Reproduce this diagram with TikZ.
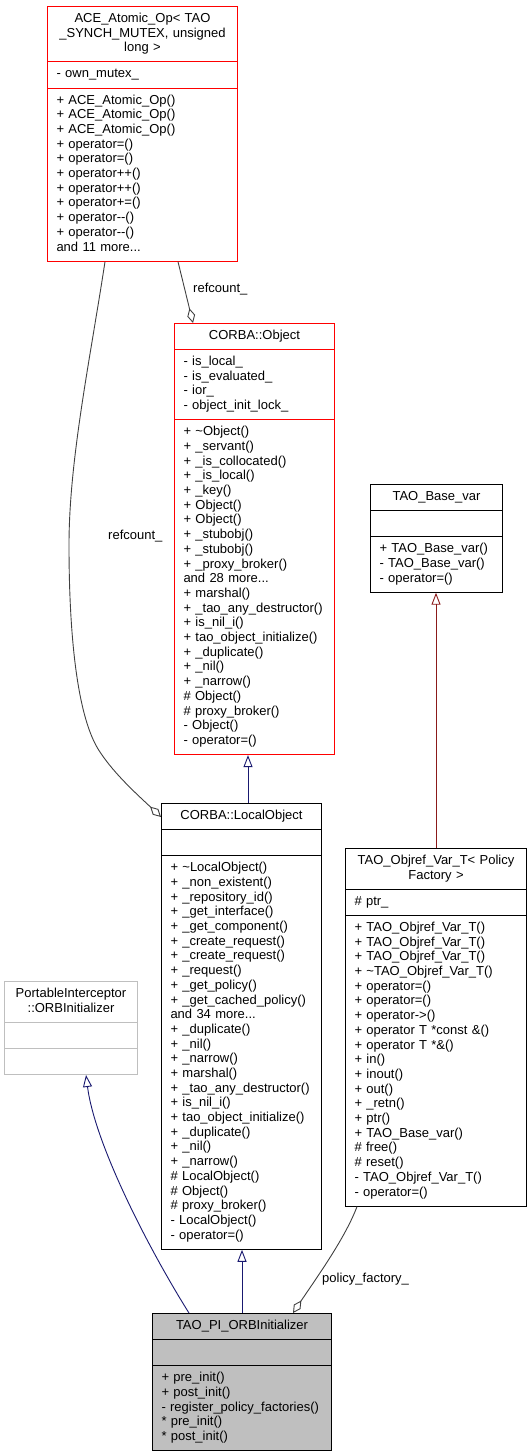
\documentclass[tikz,border=0pt]{standalone}
\usepackage{fontspec}
\setmainfont{Liberation Sans}
\usetikzlibrary{calc}
\usetikzlibrary{arrows.meta}
\usetikzlibrary{shapes.multipart}

\definecolor{dxred}{HTML}{FF0000}
\definecolor{dxnavy}{HTML}{191970}
\definecolor{dxbrown}{HTML}{8B1A1A}
\definecolor{dxgrey}{HTML}{404040}
\definecolor{dxlight}{HTML}{BFBFBF}

\newcommand{\clsfont}{\fontsize{13}{14.7}\selectfont}

\begin{document}
\begin{tikzpicture} [x=1pt, y=-1pt,
  cls/.style={rectangle split, rectangle split parts=3, draw, line width=1pt,
    anchor=north west, inner xsep=9pt, inner ysep=5.2pt, font=\clsfont,
    text width=#1},
  inh/.style={-{Triangle[open, length=12pt, width=9pt]}, line width=0.9pt, dxnavy},
  agg/.style={{Diamond[open, length=15pt, width=8pt]}-, line width=0.9pt, dxgrey},
  lbl/.style={font=\clsfont, inner sep=0pt, anchor=west}]

\useasboundingbox (0,0) rectangle (532,1453);

% classes
\node[cls=172pt, draw=dxred] (ace) at (47,6) {\centering\strut ACE\_Atomic\_Op< TAO\\\_SYNCH\_MUTEX, unsigned\\long >\strut\par
  \nodepart{two}\raggedright\strut - own\_mutex\_\strut
  \nodepart{three}\raggedright\strut + ACE\_Atomic\_Op()\\+ ACE\_Atomic\_Op()\\+ ACE\_Atomic\_Op()\\+ operator=()\\+ operator=()\\+ operator++()\\+ operator++()\\+ operator+=()\\+ operator-{}-()\\+ operator-{}-()\\and 11 more...\strut};

\node[cls=142pt, draw=dxred] (obj) at (174,323) {\centering\strut CORBA::Object\strut\par
  \nodepart{two}\raggedright\strut - is\_local\_\\- is\_evaluated\_\\- ior\_\\- object\_init\_lock\_\strut
  \nodepart{three}\raggedright\strut + \textasciitilde Object()\\+ \_servant()\\+ \_is\_collocated()\\+ \_is\_local()\\+ \_key()\\+ Object()\\+ Object()\\+ \_stubobj()\\+ \_stubobj()\\+ \_proxy\_broker()\\and 28 more...\\+ marshal()\\+ \_tao\_any\_destructor()\\+ is\_nil\_i()\\+ tao\_object\_initialize()\\+ \_duplicate()\\+ \_nil()\\+ \_narrow()\\\# Object()\\\# proxy\_broker()\\- Object()\\- operator=()\strut};

\node[cls=114pt] (basevar) at (370,484) {\centering\strut TAO\_Base\_var\strut\par
  \nodepart{two}\strut
  \nodepart{three}\raggedright\strut + TAO\_Base\_var()\\- TAO\_Base\_var()\\- operator=()\strut};

\node[cls=142pt] (lo) at (161,803) {\centering\strut CORBA::LocalObject\strut\par
  \nodepart{two}\strut
  \nodepart{three}\raggedright\strut + \textasciitilde LocalObject()\\+ \_non\_existent()\\+ \_repository\_id()\\+ \_get\_interface()\\+ \_get\_component()\\+ \_create\_request()\\+ \_create\_request()\\+ \_request()\\+ \_get\_policy()\\+ \_get\_cached\_policy()\\and 34 more...\\+ \_duplicate()\\+ \_nil()\\+ \_narrow()\\+ marshal()\\+ \_tao\_any\_destructor()\\+ is\_nil\_i()\\+ tao\_object\_initialize()\\+ \_duplicate()\\+ \_nil()\\+ \_narrow()\\\# LocalObject()\\\# Object()\\\# proxy\_broker()\\- LocalObject()\\- operator=()\strut};

\node[cls=163pt] (objref) at (345,848) {\centering\strut TAO\_Objref\_Var\_T< Policy\\Factory >\strut\par
  \nodepart{two}\raggedright\strut \# ptr\_\strut
  \nodepart{three}\raggedright\strut + TAO\_Objref\_Var\_T()\\+ TAO\_Objref\_Var\_T()\\+ TAO\_Objref\_Var\_T()\\+ \textasciitilde TAO\_Objref\_Var\_T()\\+ operator=()\\+ operator=()\\+ operator->()\\+ operator T *const \&()\\+ operator T *\&()\\+ in()\\+ inout()\\+ out()\\+ \_retn()\\+ ptr()\\+ TAO\_Base\_var()\\\# free()\\\# reset()\\- TAO\_Objref\_Var\_T()\\- operator=()\strut};

\node[cls=115pt, draw=dxlight] (portable) at (4,981) {\centering\strut PortableInterceptor\\::ORBInitializer\strut\par
  \nodepart{two}\strut
  \nodepart{three}\strut};

\node[cls=161pt, fill=dxlight] (pi) at (152,1313) {\centering\strut TAO\_PI\_ORBInitializer\strut\par
  \nodepart{two}\strut
  \nodepart{three}\raggedright\strut + pre\_init()\\+ post\_init()\\- register\_policy\_factories()\\{}* pre\_init()\\{}* post\_init()\strut};

% inheritance
\draw[inh] ($(lo.north west)+(87,0)$) coordinate (lotop) -- (lotop |- obj.south);
\draw[inh, dxbrown] (objref.north) -- (objref.north |- basevar.south);
\draw[inh] (pi.north) -- (pi.north |- lo.south);
\draw[inh] ($(pi.north west)+(37,0)$) .. controls +(-39,-62) and +(9,70) .. ($(portable.south west)+(82,0)$);

% members
\draw[agg] ($(obj.north west)+(19,0)$) -- ($(ace.south west)+(131,0)$);
\draw[agg] ($(lo.north west)+(0,14)$) .. controls (140,797) and (115,775) .. (100,752)
  .. controls (78,720) and (69,640) .. (69,545) .. controls (69,460) and (90,360) .. ($(ace.south west)+(58,0)$);
\draw[agg] ($(pi.north west)+(141,0)$) .. controls +(22,-33) and +(-12,32) .. ($(objref.south west)+(12,0)$);

\node[lbl] (rcobj) at (193,289) {refcount\_};
\node[lbl] (rclo) at (108,536) {refcount\_};
\node[lbl] (pf) at (322,1279) {policy\_factory\_};

\end{tikzpicture}
\end{document}
